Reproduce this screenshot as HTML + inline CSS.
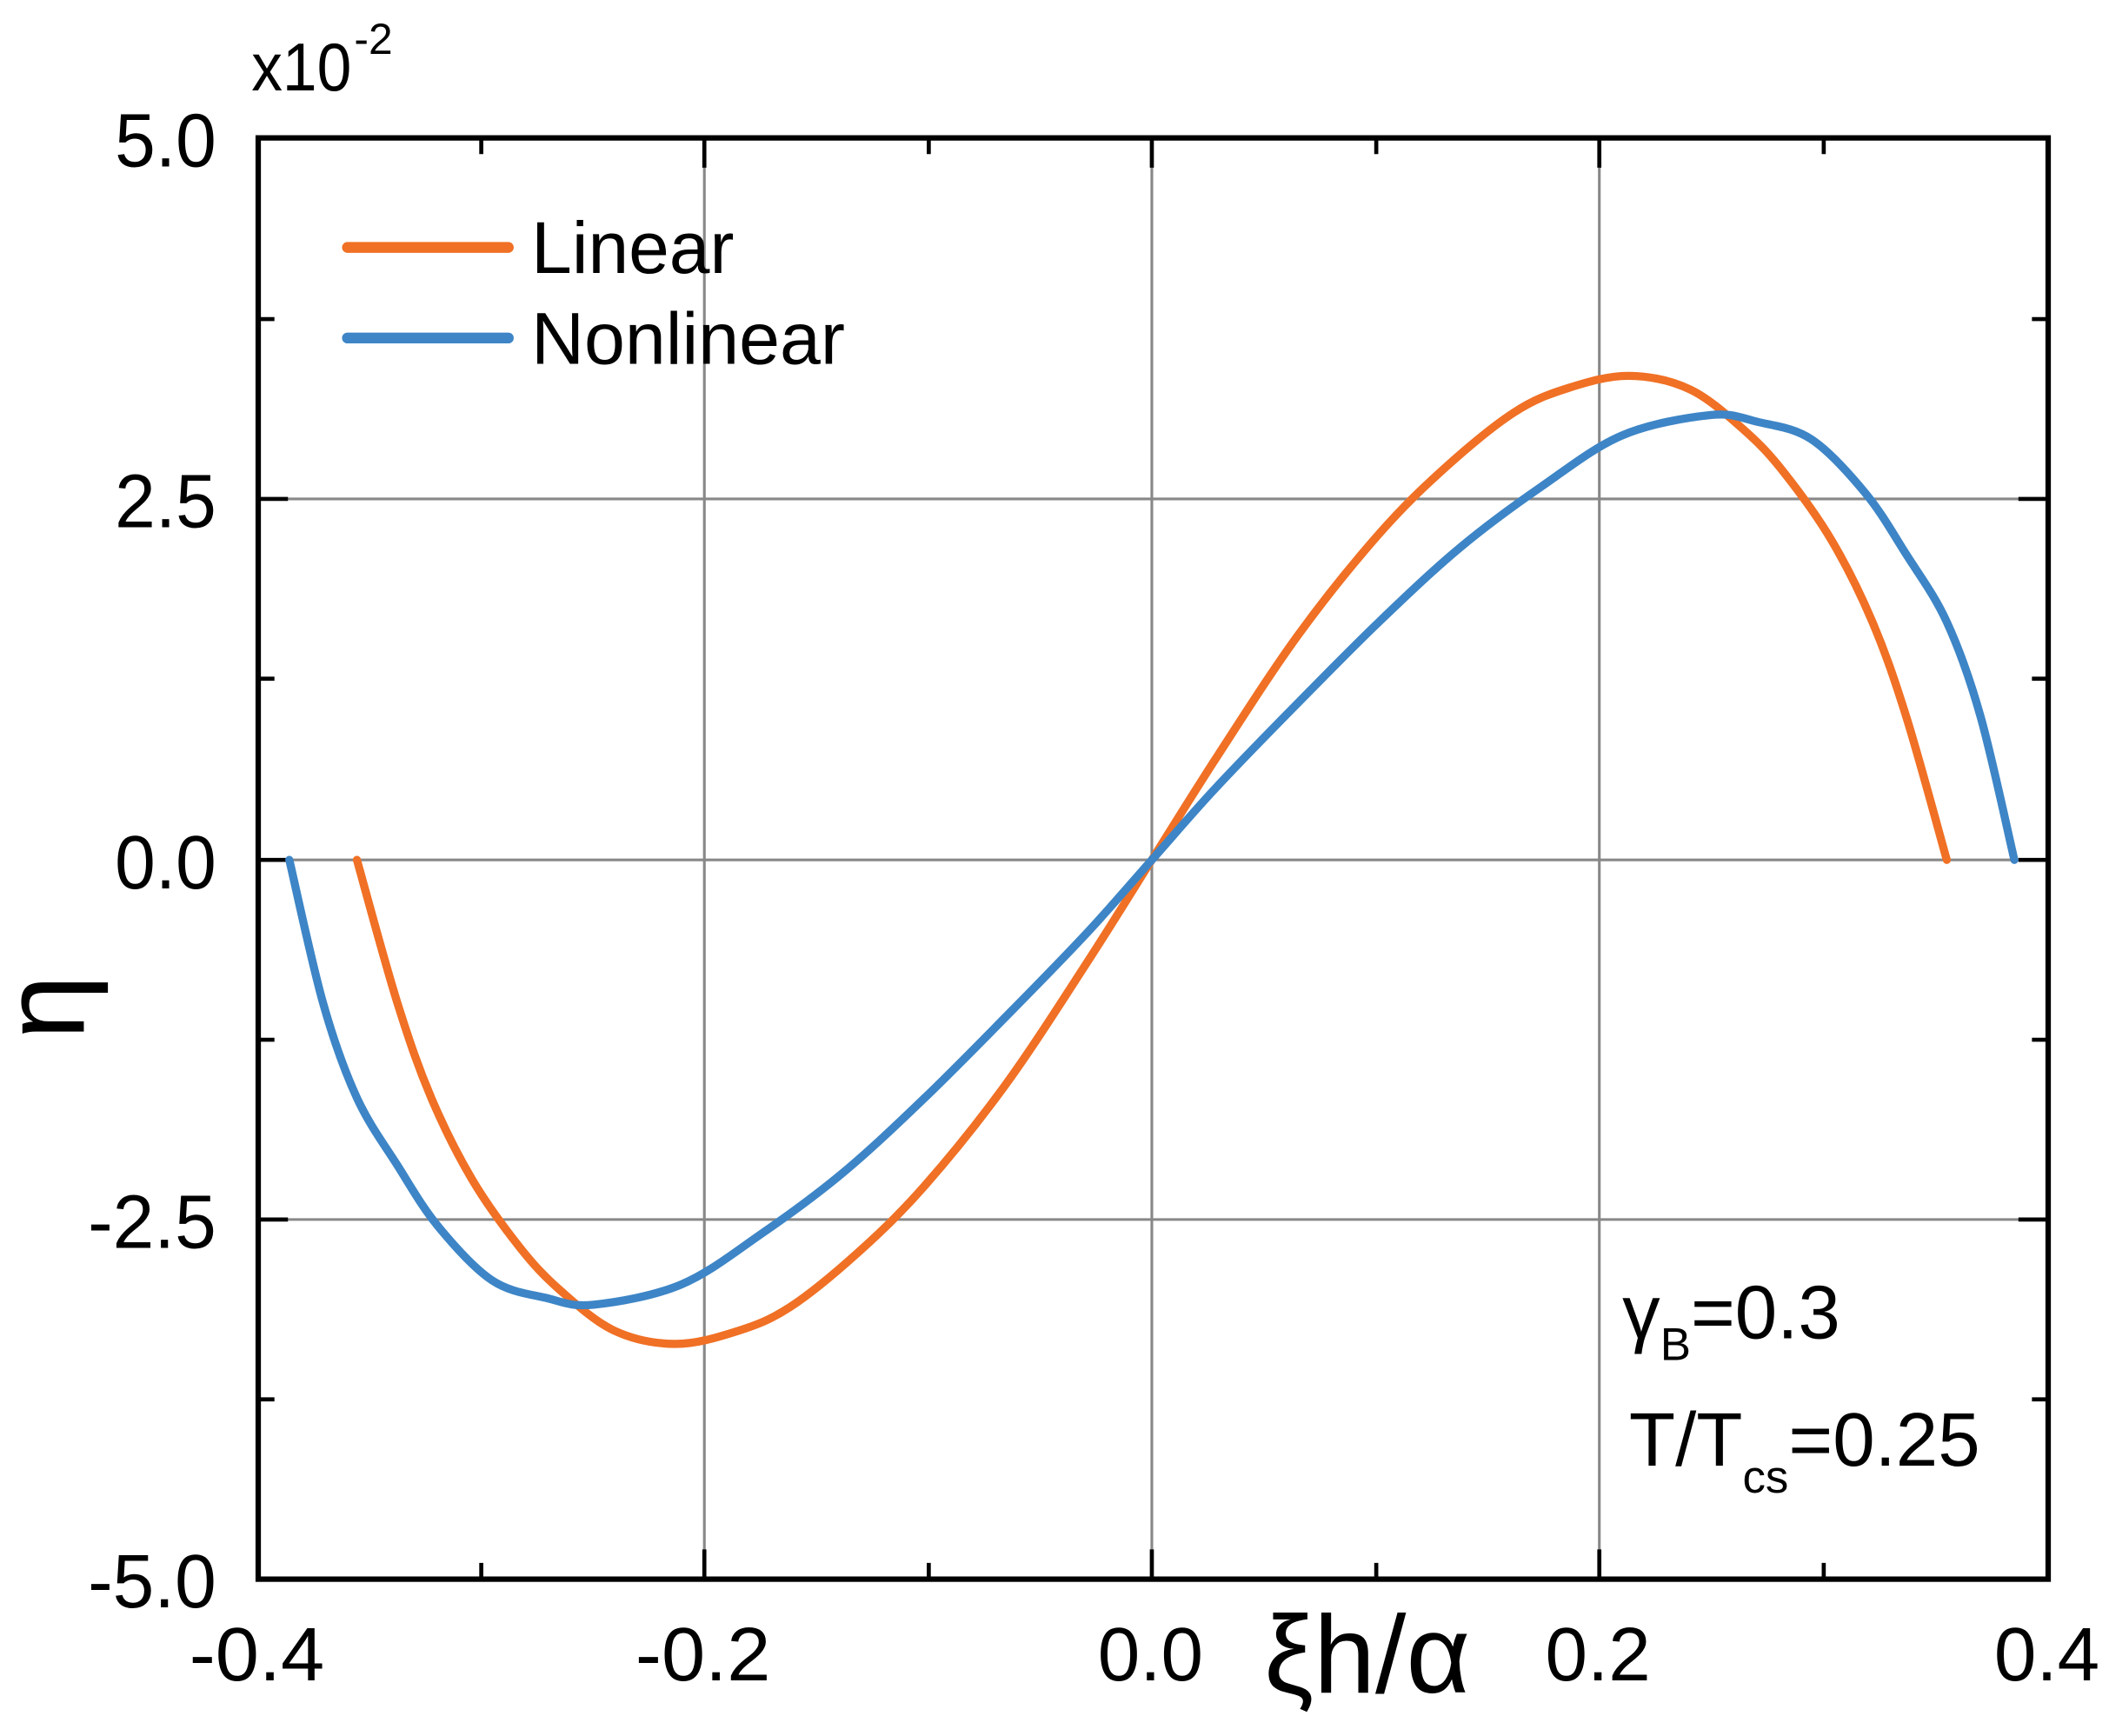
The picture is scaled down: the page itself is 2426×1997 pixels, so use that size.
<!DOCTYPE html>
<html><head><meta charset="utf-8"><style>
html,body{margin:0;padding:0;background:#fff;}
svg{display:block;}
text{font-family:"Liberation Sans",Arial,sans-serif;fill:#000;}
</style></head><body>
<svg width="2426" height="1997" viewBox="0 0 1560 1284" preserveAspectRatio="none" xmlns="http://www.w3.org/2000/svg">
<rect width="1560" height="1284" fill="#fff"/>
<g stroke="#888" stroke-width="2">
<line x1="521" y1="102" x2="521" y2="1168"/>
<line x1="852" y1="102" x2="852" y2="1168"/>
<line x1="1183" y1="102" x2="1183" y2="1168"/>
<line x1="191" y1="369" x2="1515" y2="369"/>
<line x1="191" y1="636" x2="1515" y2="636"/>
<line x1="191" y1="902" x2="1515" y2="902"/>
</g>
<g stroke="#000" stroke-width="3">
<path d="M521 102v22M852 102v22M1183 102v22M356 102v12M687 102v12M1018 102v12M1349 102v12
M521 1168v-22M852 1168v-22M1183 1168v-22M356 1168v-12M687 1168v-12M1018 1168v-12M1349 1168v-12
M191 369h22M191 636h22M191 902h22M191 236h12M191 502h12M191 769h12M191 1035h12
M1515 369h-22M1515 636h-22M1515 902h-22M1515 236h-12M1515 502h-12M1515 769h-12M1515 1035h-12"/>
</g>
<rect x="191" y="102" width="1324" height="1066" fill="none" stroke="#000" stroke-width="4"/>
<g fill="none" stroke-width="6" stroke-linecap="round" stroke-linejoin="round">
<path id="lin" stroke="#f07025" d=""/>
<path id="non" stroke="#3d85c6" d=""/>
</g>
<g font-size="56" text-anchor="end" lengthAdjust="spacingAndGlyphs">
<text x="160" y="123" textLength="75" lengthAdjust="spacingAndGlyphs">5.0</text>
<text x="160" y="390" textLength="75" lengthAdjust="spacingAndGlyphs">2.5</text>
<text x="160" y="657" textLength="75" lengthAdjust="spacingAndGlyphs">0.0</text>
<text x="160" y="923" textLength="95" lengthAdjust="spacingAndGlyphs">-2.5</text>
<text x="160" y="1189" textLength="95" lengthAdjust="spacingAndGlyphs">-5.0</text>
</g>
<g font-size="56">
<text x="140" y="1243" textLength="100" lengthAdjust="spacingAndGlyphs">-0.4</text>
<text x="470" y="1243" textLength="100" lengthAdjust="spacingAndGlyphs">-0.2</text>
<text x="812" y="1243" textLength="78" lengthAdjust="spacingAndGlyphs">0.0</text>
<text x="1143" y="1243" textLength="78" lengthAdjust="spacingAndGlyphs">0.2</text>
<text x="1475" y="1243" textLength="78" lengthAdjust="spacingAndGlyphs">0.4</text>
</g>
<text x="186" y="67" font-size="50" textLength="74" lengthAdjust="spacingAndGlyphs">x10</text>
<text x="262" y="40" font-size="32">-2</text>
<line x1="257" y1="183" x2="376" y2="183" stroke="#f07025" stroke-width="8" stroke-linecap="round"/>
<line x1="257" y1="250" x2="376" y2="250" stroke="#3d85c6" stroke-width="8" stroke-linecap="round"/>
<text x="393" y="202" font-size="54" textLength="150" lengthAdjust="spacingAndGlyphs">Linear</text>
<text x="393" y="269" font-size="54" textLength="232" lengthAdjust="spacingAndGlyphs">Nonlinear</text>
<text x="1200" y="990" font-size="56">γ<tspan font-size="34" dy="16">B</tspan><tspan dy="-16">=0.3</tspan></text>
<text x="1205" y="1084" font-size="56">T/T<tspan font-size="34" dy="20">cs</tspan><tspan dy="-20">=0.25</tspan></text>
<text x="935" y="1252" font-size="82" font-family="'Liberation Serif',serif">ξ<tspan font-family="'Liberation Sans',sans-serif">h/</tspan>α</text>
<text transform="translate(62,745) rotate(-90)" font-size="86" text-anchor="middle">η</text>
</svg>
<script>
function build(right){
  var left=right.slice(1).map(function(p){return [1704-p[0],1272-p[1]];}).reverse();
  var pts=left.concat(right);
  var d="M"+pts[0][0]+" "+pts[0][1];
  for(var i=0;i<pts.length-1;i++){
    var p0=pts[Math.max(i-1,0)],p1=pts[i],p2=pts[i+1],p3=pts[Math.min(i+2,pts.length-1)];
    var c1=[p1[0]+(p2[0]-p0[0])/6,p1[1]+(p2[1]-p0[1])/6];
    var c2=[p2[0]-(p3[0]-p1[0])/6,p2[1]-(p3[1]-p1[1])/6];
    d+=" C"+c1[0].toFixed(1)+" "+c1[1].toFixed(1)+" "+c2[0].toFixed(1)+" "+c2[1].toFixed(1)+" "+p2[0]+" "+p2[1];
  }
  return d;
}
document.getElementById("lin").setAttribute("d",build([[852,636],[900,560],[960,470],[1020,395],[1070,345],[1120,305],[1160,287],[1205,278],[1250,288],[1290,318],[1320,350],[1355,400],[1385,460],[1410,530],[1440,636]]));
document.getElementById("non").setAttribute("d",build([[852,636],[900,582],[960,520],[1020,460],[1080,405],[1140,360],[1200,322],[1265,307],[1300,312],[1340,325],[1380,365],[1410,410],[1440,460],[1465,530],[1490,636]]));
</script>
</body></html>
